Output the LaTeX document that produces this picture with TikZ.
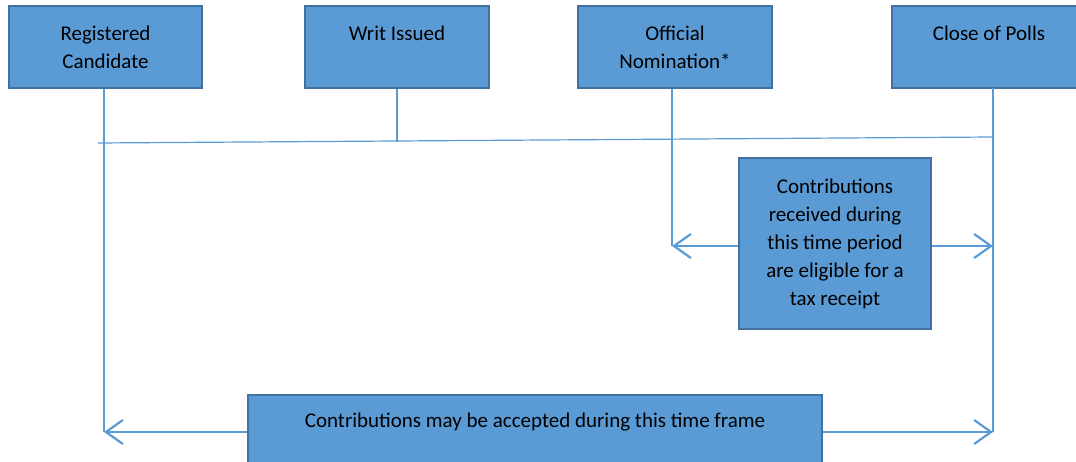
\documentclass[tikz,border=0pt]{standalone}
\usepackage{fontspec}
\setmainfont{Carlito}
\usetikzlibrary{arrows.meta,positioning}
\definecolor{boxBlue}{RGB}{91,155,213}
\definecolor{boxEdge}{RGB}{65,113,156}
\definecolor{lineBlue}{RGB}{91,155,213}
\tikzset{
  event box/.style={draw=boxEdge,fill=boxBlue,line width=1.6pt,align=center,text=black,font=\fontsize{21}{28}\selectfont,inner sep=0pt,minimum height=82pt},
  time line/.style={draw=lineBlue,line width=1.2pt},
  span arrow/.style={-{Straight Barb[length=17pt,width=24pt]},line width=2.2pt,draw=lineBlue}
}

\begin{document}
\begin{tikzpicture}[x=1pt,y=-1pt]
    \useasboundingbox (0,0) rectangle (1076,462);
    % milestones
    \node[event box,minimum width=193pt] (candidate) at (105.5,47) {Registered\\Candidate};
    \node[event box,minimum width=184pt] (writ) at (397,47) {Writ Issued\\~};
    \node[event box,minimum width=194pt] (nomination) at (675,47) {Official\\Nomination*};
    \node[event box,minimum width=194pt] (polls) at (989,47) {Close of Polls\\~};
    % periods
    \node[event box,minimum width=192pt,minimum height=171pt] (receipt) at (835,243.5) {Contributions\\received during\\this time period\\are eligible for a\\tax receipt};
    \node[event box,minimum width=574pt,minimum height=78pt] (frame) at (535,434) {Contributions may be accepted during this time frame\\~};
    % where the lines end
    \coordinate (pollsTop) at (993,88);
    \coordinate (lineStart) at (98,143);
    \coordinate (lineEnd) at (993,137);
    \coordinate (writFoot) at (397,141.6);
    \coordinate (candidateEnd) at (104,432);
    \coordinate (pollsEnd) at (993,432);
    \coordinate (nominationEnd) at (672,246);
    \coordinate (pollsMid) at (993,246);
    \draw[time line] (lineStart) -- (lineEnd);
    \draw[time line] (writ.south) -- (writFoot);
    \draw[time line] (candidate.south -| candidateEnd) -- (candidateEnd);
    \draw[time line] (nomination.south -| nominationEnd) -- (nominationEnd);
    \draw[time line] (pollsTop) -- (pollsEnd);
    \draw[span arrow] (receipt.west |- nominationEnd) -- (nominationEnd);
    \draw[span arrow] (receipt.east |- pollsMid) -- (pollsMid);
    \draw[span arrow] (frame.west |- candidateEnd) -- (candidateEnd);
    \draw[span arrow] (frame.east |- pollsEnd) -- (pollsEnd);
  \end{tikzpicture}
\end{document}
